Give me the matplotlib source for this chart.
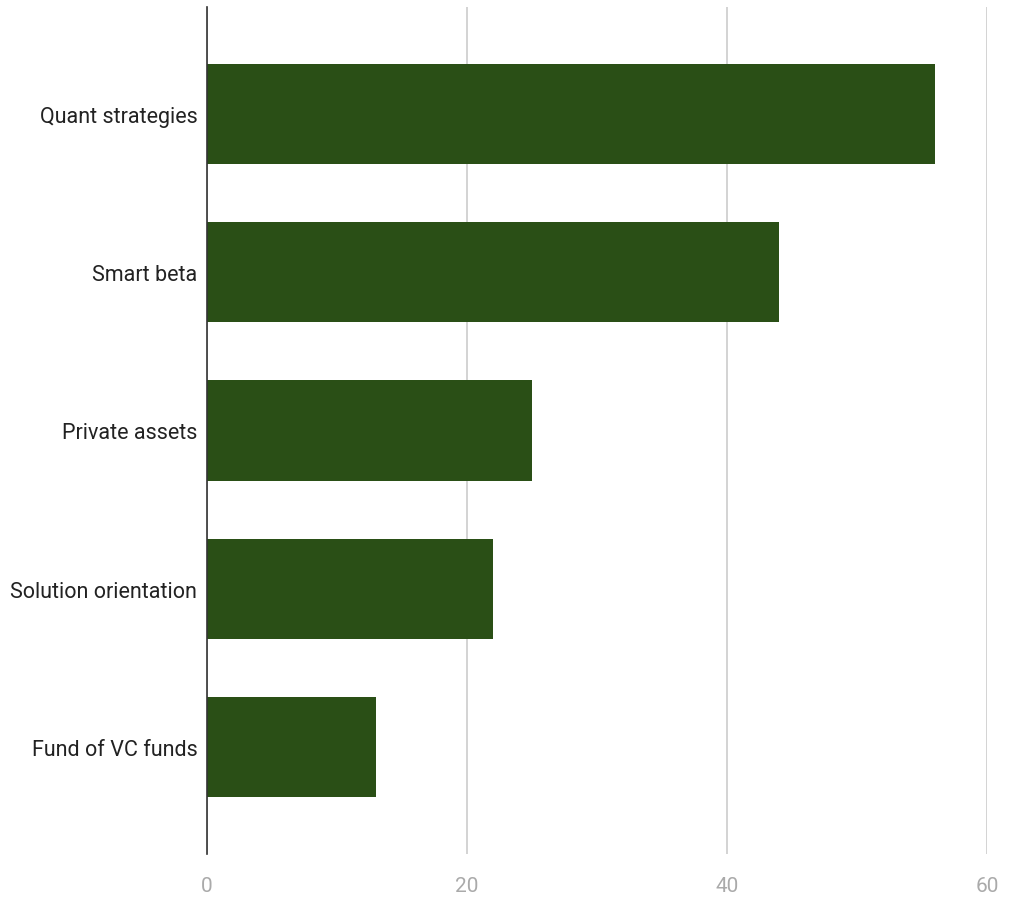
import matplotlib
matplotlib.use("Agg")
import matplotlib.pyplot as plt

categories = ["Quant strategies", "Smart beta", "Private assets", "Solution orientation", "Fund of VC funds"]
values = [56, 44, 25, 22, 13]
xticks = [0, 20, 40, 60]

plt.rcParams['font.family'] = ['Roboto', 'DejaVu Sans']

fig = plt.figure(figsize=(10.10, 9.03), dpi=100)
ax = fig.add_axes([207/1010, 1-855/903, (987-207)/1010, (855-8)/903])

ypos = list(range(len(categories)))
ax.barh(ypos, values, height=0.632, color="#2a4f16", zorder=3)
ax.set_xlim(0, 60)
ax.set_ylim(4.676, -0.676)
ax.set_yticks(ypos)
ax.set_yticklabels(categories, fontsize=15.5, color="#222222")
ax.set_xticks(xticks)
ax.set_xticklabels([str(t) for t in xticks], fontsize=15, color="#aaaaaa")
ax.tick_params(axis='y', length=0, pad=7)
ax.tick_params(axis='x', length=0, pad=16)
ax.grid(axis='x', color="#cccccc", linewidth=1.2, zorder=0)
for s in ['top', 'right', 'bottom']:
    ax.spines[s].set_visible(False)
ax.spines['left'].set_color("#333333")
ax.spines['left'].set_linewidth(1.2)
ax.spines['left'].set_zorder(4)

fig.savefig("out.png", dpi=100)
